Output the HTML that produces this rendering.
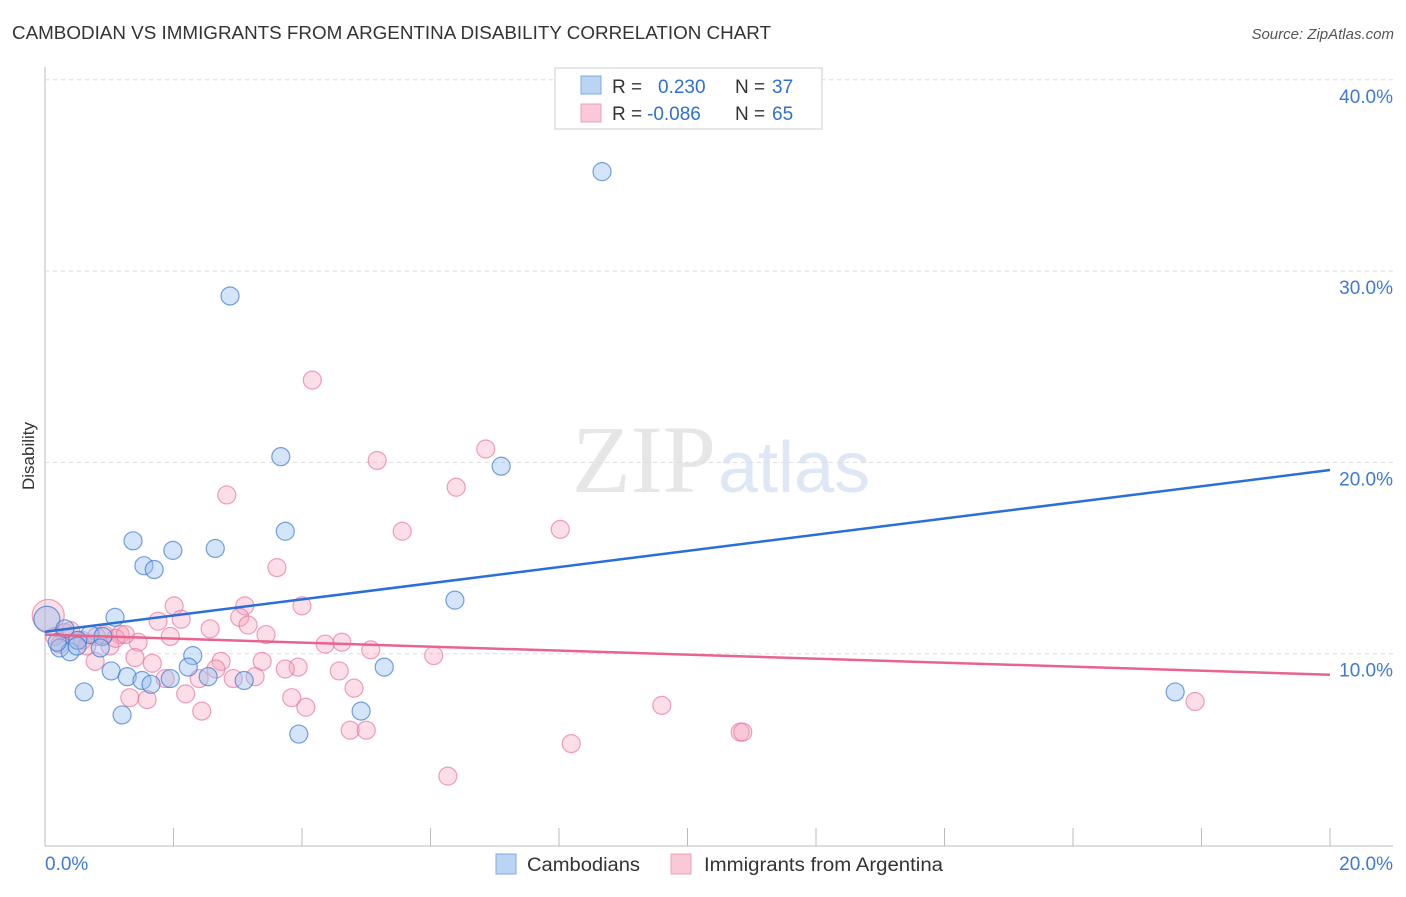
<!DOCTYPE html>
<html><head><meta charset="utf-8"><style>
body{margin:0;background:#fff;font-family:"Liberation Sans",sans-serif;}
</style></head><body>
<svg id="c" width="1406" height="892" xmlns="http://www.w3.org/2000/svg" style="font-family:'Liberation Sans',sans-serif">
<text x="12" y="39" font-size="18" fill="#333" textLength="759" lengthAdjust="spacingAndGlyphs">CAMBODIAN VS IMMIGRANTS FROM ARGENTINA DISABILITY CORRELATION CHART</text>
<text x="1394" y="39" font-size="15" fill="#555" font-style="italic" text-anchor="end">Source: ZipAtlas.com</text>
<text x="716" y="492" font-size="96" fill="#e6e6e6" font-family="Liberation Serif" text-anchor="end">ZIP</text>
<text x="718" y="492" font-size="72" fill="#dde7f5">atlas</text>
<text x="34" y="456" font-size="17" fill="#333" transform="rotate(-90 34 456)" text-anchor="middle">Disability</text>
<g id="grid"></g><g id="pts"></g><g id="lines"></g>
<g>
<rect x="555" y="68" width="267" height="61" fill="#fff" stroke="#ccc"/>
<rect x="581" y="76" width="20" height="18" fill="#bcd4f4" stroke="#7fa8e0"/>
<rect x="581" y="104" width="20" height="18" fill="#f9c9d7" stroke="#eea0b7"/>
<text x="612" y="93" font-size="19" fill="#333">R =</text>
<text x="658" y="93" font-size="19" fill="#2f6fd1">0.230</text>
<text x="735" y="93" font-size="19" fill="#333">N =</text>
<text x="772" y="93" font-size="19" fill="#2f6fd1">37</text>
<text x="612" y="120" font-size="19" fill="#333">R =</text>
<text x="647" y="120" font-size="19" fill="#2f6fd1">-0.086</text>
<text x="735" y="120" font-size="19" fill="#333">N =</text>
<text x="772" y="120" font-size="19" fill="#2f6fd1">65</text>
</g>
<g>
<rect x="496" y="854" width="20" height="20" fill="#bcd4f4" stroke="#7fa8e0"/>
<text x="527" y="871" font-size="19" fill="#333" textLength="113" lengthAdjust="spacingAndGlyphs">Cambodians</text>
<rect x="671" y="854" width="20" height="20" fill="#f9c9d7" stroke="#eea0b7"/>
<text x="704" y="871" font-size="19" fill="#333" textLength="239" lengthAdjust="spacingAndGlyphs">Immigrants from Argentina</text>
</g>
</svg>
<script>
const yTicks=[10,20,30,40];
const xTickLabels=["0.0%","20.0%"];
const blueX=[8.67,2.88,3.67,7.10,3.74,1.37,2.65,1.99,1.54,1.70,6.38,1.09,0.03,0.31,0.70,0.90,0.23,0.39,0.86,2.30,1.03,2.23,5.28,1.28,1.51,1.95,2.54,3.10,1.65,0.61,17.59,4.92,1.20,3.95,0.19,0.51,0.50];
const blueY=[35.2,28.7,20.3,19.8,16.4,15.9,15.5,15.4,14.6,14.4,12.8,11.9,11.8,11.3,11.0,10.9,10.3,10.1,10.3,9.9,9.1,9.3,9.3,8.8,8.6,8.7,8.8,8.6,8.4,8.0,8.0,7.0,6.8,5.8,10.6,10.7,10.4];
const pinkX=[4.16,6.86,5.17,6.40,2.83,5.56,8.02,3.61,2.01,3.11,4.0,1.76,2.12,3.03,3.16,2.57,3.44,1.17,0.05,1.95,1.45,4.36,4.62,5.07,6.05,1.01,0.58,1.40,1.67,0.78,2.74,3.38,3.94,3.74,4.58,2.66,1.87,2.40,2.93,3.27,4.81,1.32,2.19,1.59,3.84,4.06,2.44,4.75,5.0,9.60,17.90,8.19,10.82,10.86,6.27,0.31,0.51,0.92,0.23,0.8,1.1,0.4,0.65,1.25,0.15];
const pinkY=[24.3,20.7,20.1,18.7,18.3,16.4,16.5,14.5,12.5,12.5,12.5,11.7,11.8,11.9,11.5,11.3,11.0,11.0,12.0,10.9,10.6,10.5,10.6,10.2,9.9,10.4,10.7,9.8,9.5,9.6,9.6,9.6,9.3,9.2,9.1,9.2,8.7,8.7,8.7,8.8,8.2,7.7,7.9,7.6,7.7,7.2,7.0,6.0,6.0,7.3,7.5,5.3,5.9,5.9,3.6,11.1,10.7,11.0,10.5,10.9,10.8,11.2,10.4,11.0,10.9];
const blueTrend=[11.15,19.6];
const pinkTrend=[11.0,8.9];
const X0=45,X1=1330,Y0=845,PPY=19.13;
const sx=v=>X0+(v/20)*(X1-X0);
const sy=v=>Y0-v*PPY;
const NS="http://www.w3.org/2000/svg";
function mk(t,a,p){const e=document.createElementNS(NS,t);for(const k in a)e.setAttribute(k,a[k]);p.appendChild(e);return e;}
const grid=document.getElementById('grid');
mk('line',{x1:45,y1:67,x2:45,y2:846,stroke:'#bbb'},grid);
mk('line',{x1:45,y1:846,x2:1393,y2:846,stroke:'#bbb'},grid);
yTicks.forEach(t=>{
 const l=mk('line',{x1:45,y1:sy(t),x2:1393,y2:sy(t),stroke:'#ddd','stroke-dasharray':'4,4'},grid);
 
 
 const tx=mk('text',{x:1393,y:sy(t)+23,'font-size':19,fill:'#3d7ad6','text-anchor':'end'},grid);
 tx.textContent=t.toFixed(1)+'%';
 
 
});
for(let k=1;k<=10;k++){
 const x=sx(k*2);
 const tk=mk('line',{x1:x,y1:828,x2:x,y2:846,stroke:'#bbb'},grid);
 
 
}
const xl0=mk('text',{x:45,y:870,'font-size':19,fill:'#3d7ad6'},grid);xl0.textContent=xTickLabels[0];


const xl1=mk('text',{x:1393,y:870,'font-size':19,fill:'#3d7ad6','text-anchor':'end'},grid);xl1.textContent=xTickLabels[1];


const pts=document.getElementById('pts');
pinkX.forEach((x,i)=>{
 const r=(i===18)?16:9;
 const c=mk('circle',{cx:sx(x),cy:sy(pinkY[i]),r:r,fill:'rgba(244,160,185,0.35)',stroke:'rgba(232,110,150,0.65)','stroke-width':1.2},pts);
 
 
});
blueX.forEach((x,i)=>{
 const r=(i===12)?13:9;
 const c=mk('circle',{cx:sx(x),cy:sy(blueY[i]),r:r,fill:'rgba(150,190,240,0.4)',stroke:'rgba(60,120,210,0.7)','stroke-width':1.2},pts);
 
 
});
const lines=document.getElementById('lines');
const bl=mk('line',{x1:sx(0),y1:sy(blueTrend[0]),x2:sx(20),y2:sy(blueTrend[1]),stroke:'#2a6fd6','stroke-width':2.5},lines);


const pl=mk('line',{x1:sx(0),y1:sy(pinkTrend[0]),x2:sx(20),y2:sy(pinkTrend[1]),stroke:'#e8648f','stroke-width':2.5},lines);


</script>
</body></html>
